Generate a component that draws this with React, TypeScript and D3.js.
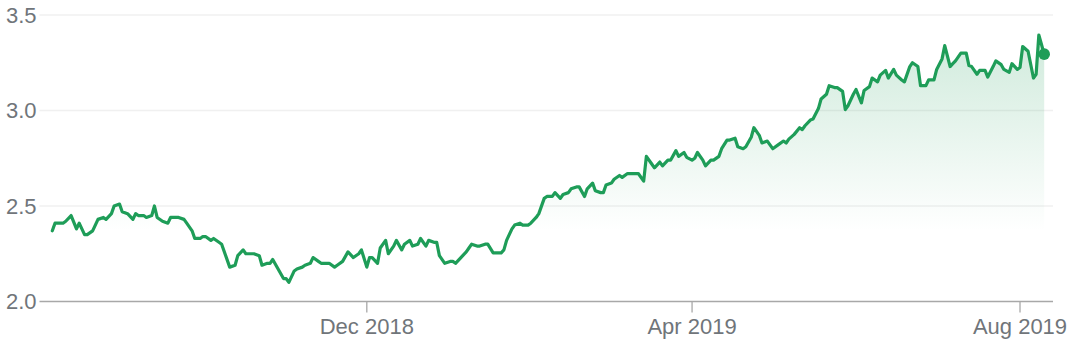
import React from "react";
import * as d3 from "d3";

const dates: string[] = [
  "2018-08-06","2018-08-07","2018-08-10","2018-08-11","2018-08-13","2018-08-15","2018-08-16","2018-08-18","2018-08-19","2018-08-21",
  "2018-08-23","2018-08-25","2018-08-26","2018-08-28","2018-08-29","2018-08-31","2018-09-01","2018-09-03","2018-09-05","2018-09-06",
  "2018-09-07","2018-09-09","2018-09-10","2018-09-12","2018-09-13","2018-09-14","2018-09-16","2018-09-18","2018-09-19","2018-09-22",
  "2018-09-24","2018-09-25","2018-09-27","2018-09-28","2018-09-30","2018-10-01","2018-10-02","2018-10-04","2018-10-05","2018-10-07",
  "2018-10-08","2018-10-11","2018-10-13","2018-10-14","2018-10-16","2018-10-17","2018-10-19","2018-10-20","2018-10-22","2018-10-23",
  "2018-10-25","2018-10-26","2018-10-27","2018-10-29","2018-10-31","2018-11-01","2018-11-02","2018-11-04","2018-11-05","2018-11-07",
  "2018-11-08","2018-11-10","2018-11-11","2018-11-13","2018-11-14","2018-11-17","2018-11-19","2018-11-20","2018-11-22","2018-11-24",
  "2018-11-26","2018-11-28","2018-11-29","2018-12-01","2018-12-02","2018-12-03","2018-12-05","2018-12-06","2018-12-08","2018-12-09",
  "2018-12-11","2018-12-12","2018-12-14","2018-12-15","2018-12-17","2018-12-18","2018-12-20","2018-12-21","2018-12-23","2018-12-24",
  "2018-12-26","2018-12-27","2018-12-28","2018-12-30","2019-01-01","2019-01-02","2019-01-03","2019-01-05","2019-01-07","2019-01-08",
  "2019-01-09","2019-01-11","2019-01-12","2019-01-14","2019-01-15","2019-01-17","2019-01-18","2019-01-20","2019-01-21","2019-01-22",
  "2019-01-24","2019-01-25","2019-01-27","2019-01-28","2019-01-30","2019-01-31","2019-02-02","2019-02-03","2019-02-05","2019-02-06",
  "2019-02-08","2019-02-09","2019-02-11","2019-02-12","2019-02-14","2019-02-15","2019-02-17","2019-02-18","2019-02-20","2019-02-21",
  "2019-02-23","2019-02-24","2019-02-26","2019-02-27","2019-02-28","2019-03-02","2019-03-03","2019-03-05","2019-03-06","2019-03-08",
  "2019-03-10","2019-03-11","2019-03-12","2019-03-14","2019-03-15","2019-03-17","2019-03-18","2019-03-20","2019-03-21","2019-03-23",
  "2019-03-24","2019-03-26","2019-03-27","2019-03-29","2019-03-30","2019-04-01","2019-04-02","2019-04-03","2019-04-05","2019-04-06",
  "2019-04-08","2019-04-09","2019-04-11","2019-04-12","2019-04-14","2019-04-15","2019-04-17","2019-04-18","2019-04-20","2019-04-21",
  "2019-04-23","2019-04-24","2019-04-26","2019-04-27","2019-04-29","2019-04-30","2019-05-01","2019-05-03","2019-05-05","2019-05-06",
  "2019-05-07","2019-05-09","2019-05-11","2019-05-12","2019-05-13","2019-05-15","2019-05-16","2019-05-18","2019-05-19","2019-05-21",
  "2019-05-22","2019-05-24","2019-05-25","2019-05-27","2019-05-28","2019-05-29","2019-05-31","2019-06-01","2019-06-03","2019-06-04",
  "2019-06-06","2019-06-07","2019-06-09","2019-06-10","2019-06-12","2019-06-13","2019-06-15","2019-06-16","2019-06-18","2019-06-19",
  "2019-06-21","2019-06-22","2019-06-24","2019-06-25","2019-06-27","2019-06-28","2019-06-30","2019-07-01","2019-07-03","2019-07-04",
  "2019-07-06","2019-07-07","2019-07-08","2019-07-10","2019-07-12","2019-07-13","2019-07-14","2019-07-16","2019-07-17","2019-07-19",
  "2019-07-20","2019-07-22","2019-07-23","2019-07-25","2019-07-26","2019-07-28","2019-07-29","2019-07-31","2019-08-01","2019-08-02",
  "2019-08-04","2019-08-06","2019-08-07","2019-08-08","2019-08-10"
];

const prices: number[] = [
  2.37,2.41,2.41,2.42,2.45,2.38,2.41,2.35,2.35,2.37,
  2.43,2.44,2.43,2.46,2.50,2.51,2.47,2.46,2.43,2.46,
  2.45,2.45,2.44,2.45,2.50,2.44,2.42,2.41,2.44,2.44,
  2.43,2.41,2.37,2.33,2.33,2.34,2.34,2.32,2.33,2.31,
  2.30,2.18,2.19,2.24,2.27,2.25,2.25,2.25,2.24,2.19,
  2.20,2.20,2.22,2.17,2.12,2.12,2.10,2.16,2.17,2.18,
  2.19,2.20,2.23,2.21,2.20,2.20,2.18,2.19,2.21,2.26,
  2.23,2.25,2.27,2.18,2.23,2.23,2.20,2.28,2.32,2.25,
  2.29,2.32,2.27,2.30,2.32,2.29,2.30,2.33,2.29,2.32,
  2.31,2.31,2.24,2.20,2.21,2.21,2.20,2.23,2.26,2.28,
  2.30,2.29,2.29,2.30,2.30,2.255,2.255,2.255,2.27,2.32,
  2.38,2.40,2.41,2.40,2.40,2.41,2.44,2.46,2.54,2.55,
  2.55,2.57,2.54,2.56,2.57,2.59,2.60,2.60,2.55,2.59,
  2.62,2.58,2.57,2.57,2.61,2.62,2.64,2.66,2.65,2.67,
  2.67,2.67,2.67,2.63,2.76,2.72,2.70,2.73,2.71,2.74,
  2.74,2.79,2.76,2.78,2.755,2.74,2.75,2.78,2.74,2.71,
  2.74,2.74,2.76,2.80,2.845,2.845,2.855,2.81,2.80,2.81,
  2.86,2.91,2.87,2.83,2.84,2.82,2.80,2.82,2.84,2.83,
  2.85,2.875,2.91,2.90,2.92,2.95,2.955,3.01,3.06,3.085,
  3.13,3.12,3.12,3.10,3.005,3.025,3.085,3.11,3.04,3.105,
  3.125,3.17,3.15,3.185,3.21,3.17,3.215,3.185,3.16,3.15,
  3.23,3.25,3.23,3.13,3.13,3.16,3.16,3.215,3.27,3.34,
  3.23,3.245,3.26,3.30,3.30,3.235,3.23,3.19,3.21,3.21,
  3.175,3.23,3.26,3.24,3.215,3.20,3.245,3.215,3.225,3.335,
  3.31,3.17,3.19,3.395,3.295
];

const yTicks: number[] = [2.0, 2.5, 3.0, 3.5];
const xTickDates: string[] = ["2018-12-01", "2019-04-01", "2019-08-01"];
const xTickLabels: string[] = ["Dec 2018", "Apr 2019", "Aug 2019"];

const W = 1070;
const H = 345;
const GREEN = "#1e9d58";
const TEXT = "#70757a";
const FONT = "'Liberation Sans', Arial, sans-serif";

export default function App() {
  const parse = d3.utcParse("%Y-%m-%d");
  const data = dates.map((d, i) => ({ date: parse(d) as Date, value: prices[i] }));

  const x = d3
    .scaleUtc()
    .domain([parse("2018-08-06") as Date, parse("2019-08-10") as Date])
    .range([52.3, 1044.2]);
  const y = d3.scaleLinear().domain([2.0, 3.5]).range([301.5, 15]);

  const gridLeft = 39.5;
  const gridRight = 1053;

  const line = d3
    .line<{ date: Date; value: number }>()
    .x((d) => x(d.date))
    .y((d) => y(d.value));
  const area = d3
    .area<{ date: Date; value: number }>()
    .x((d) => x(d.date))
    .y0(y(2.0))
    .y1((d) => y(d.value));

  const last = data[data.length - 1];

  return (
    <svg
      width={W}
      height={H}
      style={{ position: "absolute", left: 0, top: 0, background: "#fff" }}
      fontFamily={FONT}
    >
      <defs>
        <linearGradient id="fillGrad" gradientUnits="userSpaceOnUse" x1="0" x2="0" y1={y(3.4)} y2={y(2.37)}>
          <stop offset="0" stopColor={GREEN} stopOpacity={0.21} />
          <stop offset="1" stopColor={GREEN} stopOpacity={0} />
        </linearGradient>
      </defs>

      {yTicks.map((t) =>
        t === 2.0 ? null : (
          <line key={t} x1={gridLeft} x2={gridRight} y1={y(t)} y2={y(t)} stroke="#f0f0f0" strokeWidth={1.5} />
        )
      )}

      <path d={area(data) || ""} fill="url(#fillGrad)" />

      <line x1={gridLeft} x2={gridRight} y1={y(2.0)} y2={y(2.0)} stroke="#a8a8a8" strokeWidth={1.5} />

      {xTickDates.map((d, i) => {
        const xp = x(parse(d) as Date);
        return (
          <g key={d}>
            <line x1={xp} x2={xp} y1={y(2.0)} y2={y(2.0) + 11} stroke="#a8a8a8" strokeWidth={1.3} />
            <text x={xp} y={333.5} textAnchor="middle" fontSize={22} fill={TEXT}>
              {xTickLabels[i]}
            </text>
          </g>
        );
      })}

      {yTicks.map((t) => (
        <text key={t} x={6} y={y(t) + 7.9} fontSize={22} fill={TEXT}>
          {t.toFixed(1)}
        </text>
      ))}

      <path d={line(data) || ""} fill="none" stroke={GREEN} strokeWidth={3.2} strokeLinejoin="round" strokeLinecap="round" />
      <circle cx={x(last.date)} cy={y(last.value)} r={5.8} fill={GREEN} />
    </svg>
  );
}
